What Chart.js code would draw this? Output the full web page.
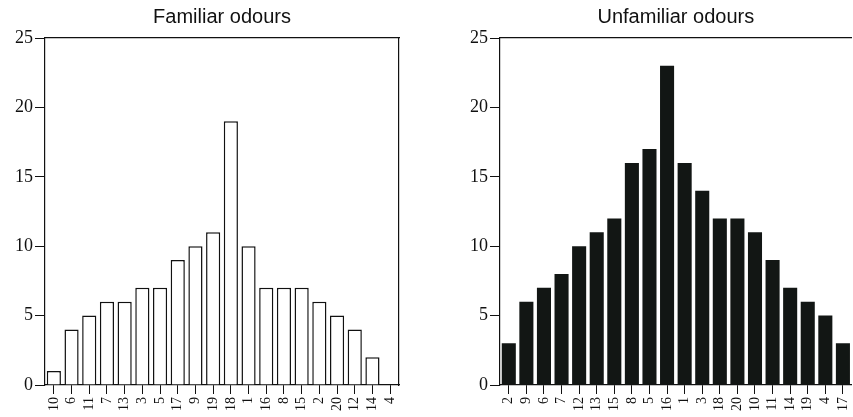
<!DOCTYPE html>
<html>
<head>
<meta charset="utf-8">
<script src="https://cdn.jsdelivr.net/npm/chart.js@4.4.0/dist/chart.umd.min.js"></script>
<style>
  html, body { margin: 0; padding: 0; background: #fff; }
  #wrap { position: relative; width: 853px; height: 417px; overflow: hidden; }
  .panel { position: absolute; top: 0; height: 417px; }
  #left { left: 0; width: 425px; }
  #right { left: 430px; width: 433px; }
</style>
</head>
<body>
<div id="wrap">
  <div class="panel" id="left"><canvas id="familiar-chart"></canvas></div>
  <div class="panel" id="right"><canvas id="unfamiliar-chart"></canvas></div>
</div>
<script>
// Odour numbers, in the order they appear along each x axis
const familiarLabels = ['10', '6', '11', '7', '13', '3', '5', '17', '9', '19', '18', '1', '16', '8', '15', '2', '20', '12', '14', '4'];
const familiarValues = [1, 4, 5, 6, 6, 7, 7, 9, 10, 11, 19, 10, 7, 7, 7, 6, 5, 4, 2, 0];

const unfamiliarLabels = ['2', '9', '6', '7', '12', '13', '15', '8', '5', '16', '1', '3', '18', '20', '10', '11', '14', '19', '4', '17'];
const unfamiliarValues = [3, 6, 7, 8, 10, 11, 12, 16, 17, 23, 16, 14, 12, 12, 11, 9, 7, 6, 5, 3];

const yTicks = [0, 5, 10, 15, 20, 25];

const INK = '#111';
const SERIF = "'Liberation Serif', 'DejaVu Serif', serif";
const SANS = "'Liberation Sans', Arial, sans-serif";

// Build options for one panel; yWidth fixes where the y axis sits
function makeOptions(title, yWidth, rightPad, boxRight) {
    const scales = {
        x: {
            type: 'category',
            offset: true,
            grid: {
                display: true,
                offset: false,
                drawOnChartArea: false,
                drawTicks: true,
                tickLength: 9,
                color: INK,
                lineWidth: 1
            },
            border: { display: true, color: INK, width: 1.2 },
            ticks: {
                color: INK,
                font: { family: SERIF, size: 14 },
                maxRotation: 90,
                minRotation: 90,
                padding: 3,
                autoSkip: false
            },
            afterFit: scale => { scale.height = 32; }
        },
        xTop: {
            type: 'category',
            position: 'top',
            offset: true,
            grid: { display: false },
            border: { display: true, color: INK, width: 1.2 },
            ticks: { display: false },
            afterFit: scale => { scale.height = 0; }
        },
        y: {
            type: 'linear',
            min: 0,
            max: 25,
            afterBuildTicks: scale => { scale.ticks = yTicks.map(v => ({ value: v })); },
            grid: {
                display: true,
                drawOnChartArea: false,
                drawTicks: true,
                tickLength: 10,
                color: INK,
                lineWidth: 1
            },
            border: { display: true, color: INK, width: 1.2 },
            ticks: {
                color: INK,
                font: { family: SERIF, size: 18 },
                padding: 2
            },
            afterFit: scale => { scale.width = yWidth; }
        }
    };
    if (boxRight) {
        scales.yRight = {
            type: 'linear',
            position: 'right',
            min: 0,
            max: 25,
            grid: { display: false },
            border: { display: true, color: INK, width: 1.2 },
            ticks: { display: false },
            afterFit: scale => { scale.width = 0; }
        };
    }
    return {
        responsive: true,
        maintainAspectRatio: false,
        animation: false,
        layout: { padding: { left: 0, right: rightPad, top: 0, bottom: 0 } },
        plugins: {
            legend: { display: false },
            tooltip: { enabled: false },
            title: {
                display: true,
                text: title,
                color: INK,
                fullSize: false,
                font: { family: SANS, size: 20, weight: 'normal' },
                padding: { top: 5, bottom: 9 }
            }
        },
        scales: scales
    };
}

function createFamiliarChart() {
    const ctx = document.getElementById('familiar-chart').getContext('2d');
    new Chart(ctx, {
        type: 'bar',
        data: {
            labels: familiarLabels,
            datasets: [{
                data: familiarValues,
                backgroundColor: '#fff',
                borderColor: INK,
                borderWidth: 1.5,
                barPercentage: 0.8,
                categoryPercentage: 1.0,
                xAxisID: 'x',
                yAxisID: 'y'
            }]
        },
        options: makeOptions('Familiar odours', 45, 26, true)
    });
}

function createUnfamiliarChart() {
    const ctx = document.getElementById('unfamiliar-chart').getContext('2d');
    new Chart(ctx, {
        type: 'bar',
        data: {
            labels: unfamiliarLabels,
            datasets: [{
                data: unfamiliarValues,
                backgroundColor: '#121614',
                borderWidth: 0,
                barPercentage: 0.8,
                categoryPercentage: 1.0,
                xAxisID: 'x',
                yAxisID: 'y'
            }]
        },
        options: makeOptions('Unfamiliar odours', 70, 0, false)
    });
}

createFamiliarChart();
createUnfamiliarChart();
</script>
</body>
</html>
